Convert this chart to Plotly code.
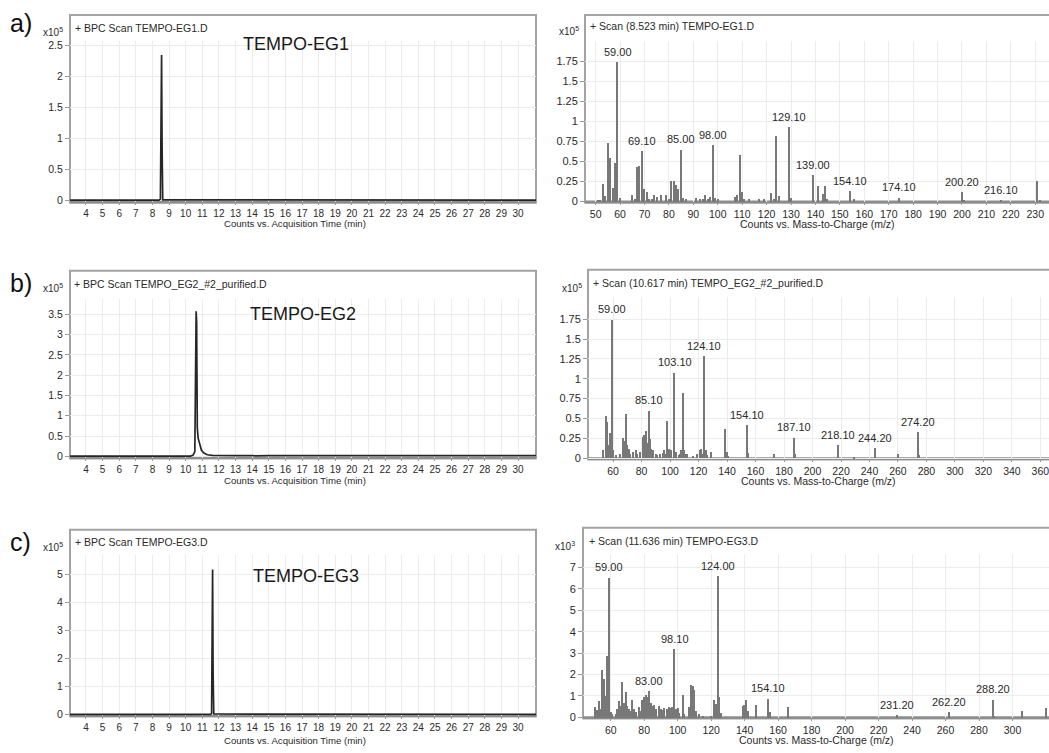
import plotly.graph_objects as go

W, H = 1049, 753
FONT = "Liberation Sans, Arial, sans-serif"

# ---------------- data ----------------
# BPC chromatograms: retention time (min) vs intensity (x10^5 counts)
time_eg1 = [3.04, 8.40, 8.48, 8.51, 8.55, 8.58, 8.62, 31.08]
bpc_eg1 = [0.005, 0.005, 0.02, 1.10, 2.35, 0.90, 0.01, 0.005]

time_eg2 = [3.04, 10.30, 10.45, 10.50, 10.55, 10.58, 10.60, 10.63, 10.66, 10.70, 10.75,
            10.85, 10.95, 11.10, 11.30, 11.60, 12.00, 13.00, 14.00, 14.20, 15.00, 16.00,
            18.00, 20.00, 22.00, 24.00, 26.00, 28.00, 30.00, 31.08]
bpc_eg2 = [0.005, 0.005, 0.03, 0.08, 0.12, 1.35, 2.50, 3.58, 3.30, 0.70, 0.45,
           0.26, 0.15, 0.08, 0.04, 0.025, 0.02, 0.02, 0.02, 0.01, 0.02, 0.02,
           0.02, 0.02, 0.02, 0.02, 0.02, 0.02, 0.02, 0.02]

time_eg3 = [3.04, 11.50, 11.56, 11.59, 11.62, 11.65, 11.69, 31.08]
bpc_eg3 = [0.01, 0.01, 0.04, 2.00, 5.17, 1.50, 0.02, 0.01]

# Mass spectra: m/z vs abundance
mz_eg1 = [51, 52, 53, 54, 55, 56, 57, 58, 59.0, 60, 65, 66, 67, 68, 69.1, 70, 71, 72, 73, 74,
          75, 77, 79, 80, 81, 82, 83, 84, 85.0, 86, 87, 91, 93, 94, 95, 96, 97, 98.0, 99, 100,
          107, 108, 109, 110, 111, 113, 117, 119, 122, 123, 124, 125, 129.1, 130, 139.0, 141,
          143, 144, 145, 154.1, 156, 174.1, 200.2, 201, 216.1, 231, 232]
ab_eg1 = [0.02, 0.02, 0.22, 0.07, 0.73, 0.55, 0.17, 0.49, 1.75, 0.05, 0.08, 0.03, 0.43, 0.45, 0.63, 0.16, 0.12, 0.04, 0.03, 0.08,
          0.06, 0.08, 0.09, 0.03, 0.26, 0.26, 0.21, 0.16, 0.65, 0.05, 0.03, 0.05, 0.04, 0.04, 0.08, 0.04, 0.06, 0.71, 0.05, 0.04,
          0.06, 0.08, 0.59, 0.12, 0.04, 0.03, 0.03, 0.04, 0.11, 0.04, 0.82, 0.07, 0.93, 0.05, 0.33, 0.20,
          0.10, 0.20, 0.03, 0.13, 0.03, 0.05, 0.12, 0.02, 0.015, 0.26, 0.02]
lab_eg1 = [59.0, 69.1, 85.0, 98.0, 129.1, 139.0, 154.1, 174.1, 200.2, 216.1]

mz_eg2 = [53, 55, 56, 57, 58, 59.0, 60, 62, 65, 67, 68, 69, 70, 71, 72, 74, 76, 77, 79, 81,
          82, 83, 84, 85.1, 86, 87, 88, 90, 91, 93, 95, 96, 97, 98, 99, 100, 101, 103.1, 104, 106,
          107, 108, 109, 110, 111, 112, 116, 119, 121, 122, 123, 124.1, 125, 126, 129, 139, 140, 141,
          154.1, 155, 173, 187.1, 188, 218.1, 229, 244.2, 260, 274.2, 275]
ab_eg2 = [0.11, 0.54, 0.46, 0.17, 0.32, 1.75, 0.10, 0.04, 0.06, 0.26, 0.22, 0.56, 0.17, 0.12, 0.06, 0.08, 0.10, 0.05, 0.08, 0.27,
          0.30, 0.35, 0.20, 0.60, 0.25, 0.12, 0.10, 0.05, 0.04, 0.05, 0.07, 0.10, 0.06, 0.47, 0.12, 0.05, 0.10, 1.08, 0.08, 0.04,
          0.06, 0.10, 0.82, 0.10, 0.06, 0.05, 0.03, 0.05, 0.10, 0.12, 0.05, 1.29, 0.10, 0.04, 0.08, 0.37, 0.08, 0.03,
          0.42, 0.07, 0.06, 0.26, 0.06, 0.17, 0.02, 0.13, 0.055, 0.33, 0.04]
lab_eg2 = [59.0, 85.1, 103.1, 124.1, 154.1, 187.1, 218.1, 244.2, 274.2]

mz_eg3 = [51, 52, 53, 54, 55, 56, 57, 58, 59.0, 60, 61, 63, 64, 65, 66, 67, 68, 69, 70, 71,
          72, 73, 74, 75, 77, 78, 79, 80, 81, 82, 83.0, 84, 85, 86, 87, 89, 90, 91, 92, 94,
          95, 96, 97, 98.1, 99, 100, 101, 103, 104, 107, 108, 109, 110, 111, 113, 115, 120, 122,
          123, 124.0, 125, 126, 139, 140, 141, 142, 147, 154.1, 155, 166, 231.2, 262.2, 288.2, 289,
          306, 320]
ab_eg3 = [0.50, 0.35, 0.80, 0.40, 2.25, 1.80, 1.00, 2.90, 6.55, 0.25, 0.15, 0.15, 0.40, 0.80, 0.55, 1.65, 0.70, 1.20, 0.55, 0.40,
          0.30, 0.85, 0.40, 0.25, 0.50, 0.30, 0.85, 0.95, 1.05, 0.95, 1.25, 0.70, 0.55, 0.60, 0.40, 0.55, 0.40, 0.35, 0.45, 0.40,
          0.50, 0.45, 0.50, 3.20, 0.40, 0.45, 0.20, 1.05, 0.15, 0.50, 1.55, 1.50, 1.30, 0.30, 0.15, 0.10, 0.10, 0.85,
          0.65, 6.60, 0.95, 0.20, 0.55, 0.60, 0.85, 0.30, 0.60, 0.88, 0.25, 0.50, 0.12, 0.25, 0.83, 0.10,
          0.32, 0.45]
lab_eg3 = [59.0, 83.0, 98.1, 124.0, 154.1, 231.2, 262.2, 288.2]

# tick values / labels
time_ticks = list(range(4, 31))
bpc_ticks_eg1 = [0, 0.5, 1, 1.5, 2, 2.5]
bpc_ticks_eg2 = [0, 0.5, 1, 1.5, 2, 2.5, 3, 3.5]
bpc_ticks_eg3 = [0, 1, 2, 3, 4, 5]
ms_ticks_eg12 = [0, 0.25, 0.5, 0.75, 1, 1.25, 1.5, 1.75]
ms_ticks_eg3 = [0, 1, 2, 3, 4, 5, 6, 7]
mz_ticks_eg1 = list(range(50, 231, 10))
mz_ticks_eg2 = list(range(60, 361, 20))
mz_ticks_eg3 = list(range(60, 301, 20))

# ---------------- layout helpers ----------------
def fx(px):
    return px / W


def fy(px):
    return 1 - px / H


fig = go.Figure()
shapes, annos = [], []
layout = {}

panels = [
    dict(k=1, kind="bpc", x=time_eg1, y=bpc_eg1, frame=(70, 14, 536, 203), top=40,
         xr=[3.04, 31.08], yr=[-0.032, 2.58], xt=time_ticks, yt=bpc_ticks_eg1,
         title="+ BPC Scan TEMPO-EG1.D", tpos=(73, 27), mult=("5", 41, 31),
         letter=("a)", 8, 22), name=("TEMPO-EG1", 241, 43), aty=224,
         atitle="Counts vs. Acquisition Time (min)"),
    dict(k=2, kind="ms", x=mz_eg1, y=ab_eg1, lab=lab_eg1, frame=(585, 14, 1062, 203), top=40,
         xr=[45.62, 235.63], yr=[-0.012, 2.012], xt=mz_ticks_eg1, yt=ms_ticks_eg12, bw=0.6,
         title="+ Scan (8.523 min) TEMPO-EG1.D", tpos=(588, 25), mult=("5", 557, 30), aty=225,
         atitle="Counts vs. Mass-to-Charge (m/z)"),
    dict(k=3, kind="bpc", x=time_eg2, y=bpc_eg2, frame=(70, 272, 536, 461), top=300,
         xr=[3.04, 31.08], yr=[-0.049, 3.891], xt=time_ticks, yt=bpc_ticks_eg2,
         title="+ BPC Scan TEMPO_EG2_#2_purified.D", tpos=(72, 285), mult=("5", 41, 289),
         letter=("b)", 8, 284), name=("TEMPO-EG2", 248, 316), aty=483,
         atitle="Counts vs. Acquisition Time (min)"),
    dict(k=4, kind="ms", x=mz_eg2, y=ab_eg2, lab=lab_eg2, frame=(588, 271, 1062, 462), top=298,
         xr=[42.36, 366.05], yr=[-0.016, 2.034], xt=mz_ticks_eg2, yt=ms_ticks_eg12, bw=0.9,
         title="+ Scan (10.617 min) TEMPO_EG2_#2_purified.D", tpos=(591, 284), mult=("5", 560, 289),
         aty=484, atitle="Counts vs. Mass-to-Charge (m/z)"),
    dict(k=5, kind="bpc", x=time_eg3, y=bpc_eg3, frame=(70, 533, 536, 721), top=558,
         xr=[3.04, 31.08], yr=[-0.060, 5.70], xt=time_ticks, yt=bpc_ticks_eg3,
         title="+ BPC Scan TEMPO-EG3.D", tpos=(73, 545), mult=("5", 41, 550),
         letter=("c)", 8, 545), name=("TEMPO-EG3", 251, 580), aty=745,
         atitle="Counts vs. Acquisition Time (min)"),
    dict(k=6, kind="ms", x=mz_eg3, y=ab_eg3, lab=lab_eg3, frame=(583, 531, 1062, 723), top=557,
         xr=[43.44, 321.8], yr=[-0.046, 7.65], xt=mz_ticks_eg3, yt=ms_ticks_eg3, bw=0.8,
         title="+ Scan (11.636 min) TEMPO-EG3.D", tpos=(587, 544), mult=("3", 553, 549),
         aty=745, atitle="Counts vs. Mass-to-Charge (m/z)"),
]

GRID = "#ececec"
FRAME = "#a3a3a3"
TXT = "#2a2a2a"

for p in panels:
    k = p["k"]
    xa = "x" if k == 1 else f"x{k}"
    ya = "y" if k == 1 else f"y{k}"
    xkey = "xaxis" if k == 1 else f"xaxis{k}"
    ykey = "yaxis" if k == 1 else f"yaxis{k}"
    fx0, ftop, fx1, fbot = p["frame"]
    dom_x = [fx(fx0), min(1.0, fx(fx1))]
    dom_y = [fy(fbot), fy(p["top"])]
    ms = p["kind"] == "ms"

    if not ms:
        fig.add_trace(go.Scatter(x=p["x"], y=p["y"], mode="lines", xaxis=xa, yaxis=ya,
                                 line=dict(color="#262626", width=1.7), showlegend=False,
                                 hoverinfo="skip"))
    else:
        fig.add_trace(go.Bar(x=p["x"], y=p["y"], xaxis=xa, yaxis=ya, width=p["bw"],
                             marker=dict(color="#787878", line=dict(width=0)),
                             showlegend=False, hoverinfo="skip"))
        for m in p["lab"]:
            v = p["y"][p["x"].index(m)]
            annos.append(dict(x=m, y=v, xref=xa, yref=ya, text=f"{m:.2f}", showarrow=False,
                              xanchor="center", yanchor="bottom", yshift=2,
                              font=dict(family=FONT, size=11, color=TXT)))

    layout[xkey] = dict(domain=dom_x, range=p["xr"], anchor=ya, tickvals=p["xt"],
                        ticktext=[str(t) for t in p["xt"]], showgrid=True, gridcolor=GRID,
                        gridwidth=1, zeroline=False, showline=False, ticks="outside",
                        ticklen=2, tickcolor="#9a9a9a", ticklabeloverflow="allow",
                        tickfont=dict(family=FONT, size=10.5 if ms else 10, color=TXT))
    layout[ykey] = dict(domain=dom_y, range=p["yr"], anchor=xa, tickvals=p["yt"],
                        ticktext=[f"{t:g}" for t in p["yt"]], showgrid=True, gridcolor=GRID,
                        gridwidth=1, zeroline=False, showline=False, ticks="outside",
                        ticklen=4, tickcolor="#9a9a9a",
                        tickfont=dict(family=FONT, size=11 if ms else 10.5, color=TXT))

    # frame + thick bottom axis line
    shapes.append(dict(type="rect", xref="paper", yref="paper", x0=fx(fx0), x1=fx(fx1),
                       y0=fy(fbot), y1=fy(ftop), line=dict(color=FRAME, width=2),
                       fillcolor="rgba(0,0,0,0)", layer="between"))
    shapes.append(dict(type="line", xref="paper", yref="paper", x0=fx(fx0), x1=fx(fx1),
                       y0=fy(fbot - 0.5), y1=fy(fbot - 0.5), line=dict(color="#8d8d8d", width=3),
                       layer="between"))

    # header title
    annos.append(dict(x=fx(p["tpos"][0]), y=fy(p["tpos"][1]), xref="paper", yref="paper",
                      text=p["title"], showarrow=False, xanchor="left", yanchor="middle",
                      font=dict(family=FONT, size=10.5, color=TXT)))
    # multiplier
    annos.append(dict(x=fx(p["mult"][1]), y=fy(p["mult"][2]), xref="paper", yref="paper",
                      text="x10<sup>" + p["mult"][0] + "</sup>", showarrow=False,
                      xanchor="left", yanchor="middle",
                      font=dict(family=FONT, size=10, color=TXT)))
    # axis title
    cx = (fx0 + min(fx1, W)) / 2 if ms else 295
    annos.append(dict(x=fx(cx), y=fy(p["aty"]), xref="paper", yref="paper",
                      text=p["atitle"], showarrow=False, xanchor="center", yanchor="middle",
                      font=dict(family=FONT, size=10.5 if ms else 9.6, color=TXT)))
    if "letter" in p:
        annos.append(dict(x=fx(p["letter"][1]), y=fy(p["letter"][2]), xref="paper",
                          yref="paper", text=p["letter"][0], showarrow=False,
                          xanchor="left", yanchor="middle",
                          font=dict(family=FONT, size=25, color="#111111")))
        annos.append(dict(x=fx(p["name"][1]), y=fy(p["name"][2]), xref="paper",
                          yref="paper", text=p["name"][0], showarrow=False,
                          xanchor="left", yanchor="middle",
                          font=dict(family=FONT, size=18, color="#1a1a1a")))

fig.update_layout(
    width=W, height=H, margin=dict(l=0, r=0, t=0, b=0),
    paper_bgcolor="white", plot_bgcolor="white",
    shapes=shapes, annotations=annos, bargap=0, showlegend=False,
    **layout,
)

fig.write_html("out.html")
